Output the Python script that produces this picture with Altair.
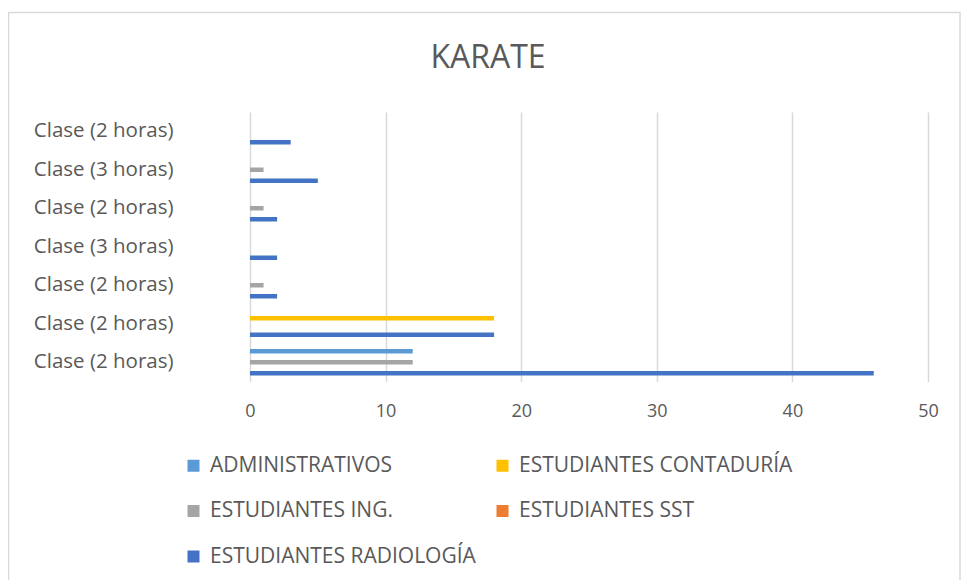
import altair as alt
import pandas as pd

# ---- data ----
category_ids = ["0", "1", "2", "3", "4", "5", "6"]
category_labels = [
    "Clase (2 horas)",
    "Clase (3 horas)",
    "Clase (2 horas)",
    "Clase (3 horas)",
    "Clase (2 horas)",
    "Clase (2 horas)",
    "Clase (2 horas)",
]
series_names = [
    "ADMINISTRATIVOS",
    "ESTUDIANTES CONTADURÍA",
    "ESTUDIANTES ING.",
    "ESTUDIANTES SST",
    "ESTUDIANTES RADIOLOGÍA",
]
series_colors = ["#5B9BD5", "#FFC000", "#A5A5A5", "#ED7D31", "#4472C4"]

administrativos = [0, 0, 0, 0, 0, 0, 12]
contaduria = [0, 0, 0, 0, 0, 18, 0]
ingenieria = [0, 1, 1, 0, 1, 0, 12]
sst = [0, 0, 0, 0, 0, 0, 0]
radiologia = [3, 5, 2, 2, 2, 18, 46]

x_ticks = [0, 10, 20, 30, 40, 50]

series_values = [administrativos, contaduria, ingenieria, sst, radiologia]
rows = []
for name, vals in zip(series_names, series_values):
    for cid, v in zip(category_ids, vals):
        rows.append({"cat": cid, "serie": name, "valor": v})
df = pd.DataFrame(rows)

FONT = "Open Sans"
TXT = "#595959"

labels_js = "[" + ",".join("'" + l + "'" for l in category_labels) + "]"

bars = alt.Chart(df).mark_bar(strokeWidth=0).encode(
    x=alt.X(
        "valor:Q",
        scale=alt.Scale(domain=[0, 50], nice=False),
        axis=alt.Axis(
            values=x_ticks,
            title=None,
            domain=False,
            ticks=False,
            grid=True,
            gridColor="#D9D9D9",
            gridWidth=1.5,
            labelFlush=False,
            labelBound=False,
            labelPadding=21,
            labelFontSize=18,
            labelColor=TXT,
            labelFont=FONT,
        ),
    ),
    y=alt.Y(
        "cat:N",
        sort=category_ids,
        scale=alt.Scale(paddingInner=0.2857, paddingOuter=0.1429),
        axis=alt.Axis(
            title=None,
            domain=False,
            ticks=False,
            grid=False,
            labelExpr=labels_js + "[toNumber(datum.value)]",
            labelPadding=77,
            labelFontSize=20.5,
            labelColor=TXT,
            labelFont=FONT,
        ),
    ),
    yOffset=alt.YOffset(
        "serie:N",
        sort=series_names,
        scale=alt.Scale(paddingInner=0.18, paddingOuter=0.09),
    ),
    color=alt.Color(
        "serie:N",
        sort=series_names,
        scale=alt.Scale(domain=series_names, range=series_colors),
        legend=alt.Legend(
            title=None,
            orient="none",
            legendX=-67,
            legendY=343,
            direction="horizontal",
            columns=2,
            columnPadding=16,
            rowPadding=23.5,
            symbolType="square",
            symbolSize=144,
            symbolStrokeWidth=0,
            labelOffset=6,
            labelFontSize=21,
            labelColor=TXT,
            labelFont=FONT,
            labelLimit=400,
        ),
    ),
)

border = alt.Chart(pd.DataFrame({"k": [0]})).mark_rect(
    fill="transparent", stroke="#D9D9D9", strokeWidth=1.5
).encode(
    x=alt.value(-241.5),
    x2=alt.value(710),
    y=alt.value(-99.5),
    y2=alt.value(520),
)

chart = (
    alt.layer(border, bars)
    .properties(
        width=678,
        height=269.5,
        title=alt.Title(
            "KARATE",
            anchor="middle",
            frame="group",
            dx=-101,
            dy=63,
            offset=0,
            fontSize=32,
            font=FONT,
            fontWeight="normal",
            color=TXT,
        ),
        autosize=alt.AutoSizeParams(type="none"),
        padding={"left": 242, "top": 104, "right": 33, "bottom": 198},
    )
    .configure_view(stroke=None)
)

chart.save("out.html", embed_options={"renderer": "svg", "actions": False})
